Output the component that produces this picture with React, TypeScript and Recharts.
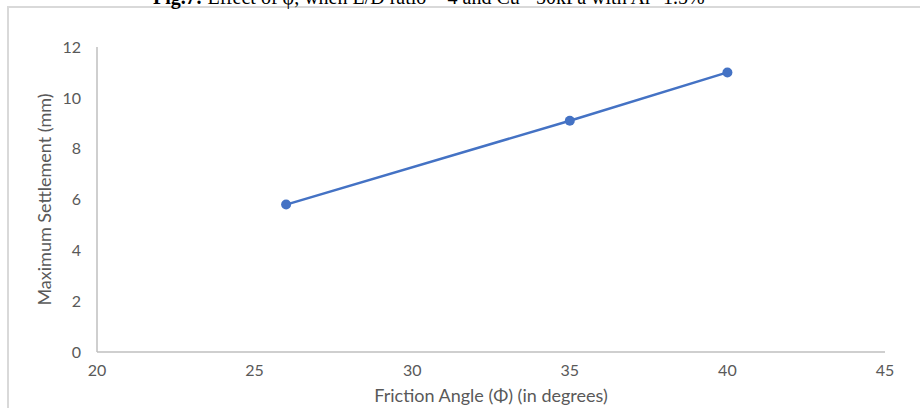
import { LineChart, Line, XAxis, YAxis } from "recharts";

// friction angle (degrees) vs max settlement (mm)
const angles = [26, 35, 40];
const settlements = [5.8, 9.1, 11];
const xTicks = [20, 25, 30, 35, 40, 45];
const yTicks = [0, 2, 4, 6, 8, 10, 12];

const data = angles.map((a, i) => ({ angle: a, settlement: settlements[i] }));

const tickStyle = { fontSize: 16, fill: "#595959", fontFamily: "Lato" };
const labelStyle = { fontSize: 18, fill: "#595959", fontFamily: "Lato" };

export default function App() {
  return (
    <div
      style={{
        position: "absolute",
        left: 0,
        top: 0,
        width: 920,
        height: 408,
        overflow: "hidden",
        background: "white",
      }}
    >
      <div
        style={{
          position: "absolute",
          left: 7,
          top: 6,
          width: 960,
          height: 460,
          border: "2px solid #d9d9d9",
        }}
      />
      <div
        style={{
          position: "absolute",
          left: 153,
          top: -13,
          whiteSpace: "nowrap",
          fontFamily: "'Liberation Serif', 'Times New Roman', serif",
          fontSize: 20,
          lineHeight: "20px",
          color: "#000",
        }}
      >
        <b>Fig.7:</b> Effect of φ, when L/D ratio = 4 and Cu= 50kPa with Ar=1.5%
      </div>
      <div style={{ position: "absolute", left: 0, top: 0 }}>
        <LineChart
          width={920}
          height={408}
          data={data}
          margin={{ top: 47, right: 35, left: 37, bottom: 26 }}
        >
          <XAxis
            dataKey="angle"
            type="number"
            domain={[20, 45]}
            ticks={xTicks}
            tickLine={false}
            tickSize={0}
            tickMargin={13}
            height={30}
            axisLine={{ stroke: "#bfbfbf", strokeWidth: 1.5 }}
            tick={tickStyle}
            label={{
              value: "Friction Angle (Φ) (in degrees)",
              position: "insideBottom",
              offset: -20,
              style: labelStyle,
            }}
          />
          <YAxis
            type="number"
            domain={[0, 12]}
            ticks={yTicks}
            tickLine={false}
            tickSize={0}
            tickMargin={16}
            width={60}
            axisLine={{ stroke: "#bfbfbf", strokeWidth: 1.5 }}
            tick={tickStyle}
            label={{
              value: "Maximum Settlement (mm)",
              angle: -90,
              position: "insideLeft",
              offset: 8,
              style: { ...labelStyle, textAnchor: "middle" },
            }}
          />
          <Line
            type="linear"
            dataKey="settlement"
            stroke="#4472C4"
            strokeWidth={2.5}
            dot={{ r: 5, fill: "#4472C4", stroke: "#4472C4", strokeWidth: 0 }}
            isAnimationActive={false}
          />
        </LineChart>
      </div>
    </div>
  );
}
